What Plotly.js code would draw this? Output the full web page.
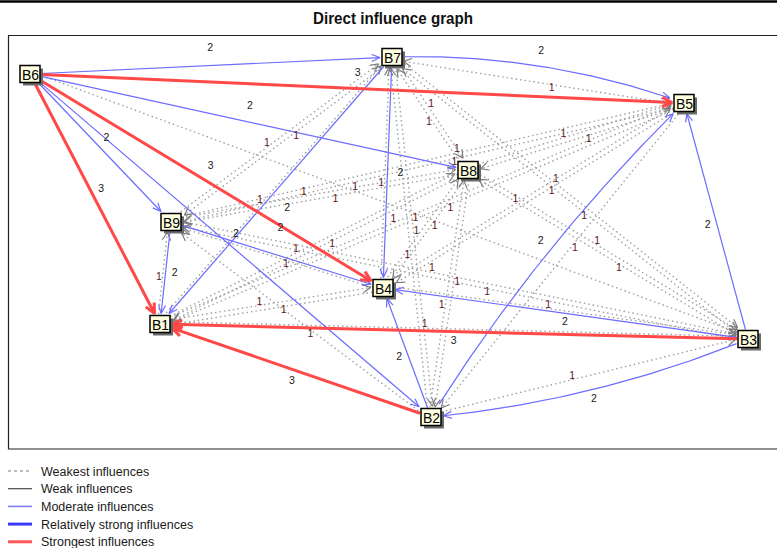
<!DOCTYPE html>
<html><head><meta charset="utf-8">
<script src="https://cdn.plot.ly/plotly-3.0.1.min.js"></script>
<style>html,body{margin:0;padding:0;background:#fff;overflow:hidden}</style>
</head><body><div id="chart" style="width:777px;height:548px"></div>
<script>
// ---- nodes (graph layout) ----
const nodeNames = ['B1','B2','B3','B4','B5','B6','B7','B8','B9'];
const nodeX = [160,431,748,383,684,30,392,468,171];
const nodeY = [324,417,339,288,103,74,57,170,222];

// ---- strongest influences (value 3) ----
const strongFrom = ['B6','B6','B6','B3','B2'];
const strongTo   = ['B5','B4','B1','B1','B1'];
const strongVal  = [3,3,3,3,3];

// ---- moderate influences (value 2) ----
const modFrom = ['B6','B6','B6','B6','B9','B7','B9','B7','B7','B3','B3','B3','B2','B2'];
const modTo   = ['B7','B8','B9','B2','B4','B1','B1','B4','B5','B5','B4','B2','B5','B4'];
const modVal  = [2,2,2,2,2,2,2,2,2,2,2,2,2,2];

// ---- weakest influences (value 1) ----
const weakFrom = ['B1','B1','B1','B1','B1','B1','B2','B2','B2','B2','B3','B3','B3',
                  'B4','B4','B4','B4','B4','B4','B5','B5','B5','B5','B5','B5','B6',
                  'B7','B7','B7','B7','B8','B8','B8','B8','B8','B8','B8','B9','B9','B9','B9'];
const weakTo   = ['B9','B7','B8','B5','B3','B4','B7','B8','B9','B3','B7','B8','B9',
                  'B7','B8','B5','B1','B9','B3','B9','B8','B4','B1','B2','B7','B3',
                  'B9','B3','B2','B8','B9','B7','B1','B4','B3','B2','B5','B7','B8','B5','B3'];
const weakVal  = weakFrom.map(() => 1);

const legendLabels = ['Weakest influences','Weak influences','Moderate influences',
                      'Relatively strong influences','Strongest influences'];

// ---- drawing style of edges (curvature / label placement) ----
const strongBend = [0,0,0,0,0];
const strongLabT = [0.5,0.49,0.48,0.5,0.5];
const strongLabO = [15,15,10,10,11];
const modBend = [0,0,0,0,0,0,0,0,28,0,0,24,24,0];
const modLabT = [0.5,0.495,0.486,0.494,0.48,0.517,0.49,0.5,0.495,0.493,0.498,0.503,0.51,0.49];
const modLabO = [17,15,11,12,26,20,9,13,29,9,9,22,25,9];
const weakLabT = weakFrom.map((f, i) => (f === 'B9' && weakTo[i] === 'B5') ? 0.56 : 0.45);

const HW = 10, HH = 8.5;
const idx = n => nodeNames.indexOf(n);
function clipFrac(dx, dy, hw, hh) {
  let t = Infinity;
  if (Math.abs(dx) > 1e-9) t = Math.min(t, hw / Math.abs(dx));
  if (Math.abs(dy) > 1e-9) t = Math.min(t, hh / Math.abs(dy));
  return t;
}
function geom(a, b, bend, shift) {
  const x0 = nodeX[a], y0 = nodeY[a], x1 = nodeX[b], y1 = nodeY[b];
  const dx = x1 - x0, dy = y1 - y0, L = Math.hypot(dx, dy);
  const nx = dy / L, ny = -dx / L;
  const sx0 = x0 + shift * nx, sy0 = y0 + shift * ny, sx1 = x1 + shift * nx, sy1 = y1 + shift * ny;
  let pts;
  if (!bend) {
    const ts = clipFrac(dx, dy, HW + 1, HH + 1), te = clipFrac(dx, dy, HW + 2, HH + 2);
    pts = [[sx0 + ts * dx, sy0 + ts * dy], [sx1 - te * dx, sy1 - te * dy]];
  } else {
    const cx = (sx0 + sx1) / 2 + bend * nx, cy = (sy0 + sy1) / 2 + bend * ny;
    const all = [];
    for (let i = 0; i <= 80; i++) {
      const t = i / 80, u = 1 - t;
      all.push([u*u*sx0 + 2*u*t*cx + t*t*sx1, u*u*sy0 + 2*u*t*cy + t*t*sy1]);
    }
    pts = all.filter(p => !(Math.abs(p[0]-x0) < HW+1 && Math.abs(p[1]-y0) < HH+1) &&
                          !(Math.abs(p[0]-x1) < HW+2 && Math.abs(p[1]-y1) < HH+2));
  }
  return {pts, x0, y0, dx, dy, nx, ny};
}
function addEdges(from, to, vals, bends, labT, labO, shift, lineArr, headArr, headLen, headAng, lab) {
  for (let i = 0; i < from.length; i++) {
    const g = geom(idx(from[i]), idx(to[i]), bends ? bends[i] : 0, shift);
    g.pts.forEach(p => { lineArr.x.push(p[0]); lineArr.y.push(p[1]); });
    lineArr.x.push(null); lineArr.y.push(null);
    const tip = g.pts[g.pts.length - 1], prev = g.pts[g.pts.length - 2];
    let ux = tip[0] - prev[0], uy = tip[1] - prev[1]; const ul = Math.hypot(ux, uy); ux /= ul; uy /= ul;
    const bx = -ux, by = -uy;
    [headAng, -headAng].forEach((ang, k) => {
      const c = Math.cos(ang), s = Math.sin(ang);
      const wx = tip[0] + headLen * (bx * c - by * s), wy = tip[1] + headLen * (bx * s + by * c);
      if (k === 0) { headArr.x.push(wx, tip[0]); headArr.y.push(wy, tip[1]); }
      else { headArr.x.push(wx, null); headArr.y.push(wy, null); }
    });
    const t = labT ? labT[i] : 0.45, o = labO ? labO[i] : 6;
    lab.x.push(g.x0 + t * g.dx + o * g.nx);
    lab.y.push(g.y0 + t * g.dy + o * g.ny);
    lab.text.push(String(vals[i]));
    lab.color.push(vals[i] === 1 ? '#5a2020' : '#1a1a1a');
  }
}

const weakL = {x: [], y: []}, weakH = {x: [], y: []};
const modL = {x: [], y: []}, strongL = {x: [], y: []};
const lab = {x: [], y: [], text: [], color: []};
addEdges(weakFrom, weakTo, weakVal, null, weakLabT, null, 2.5, weakL, weakH, 9, 0.48, lab);
addEdges(modFrom, modTo, modVal, modBend, modLabT, modLabO, 0, modL, modL, 9, 0.4, lab);
addEdges(strongFrom, strongTo, strongVal, strongBend, strongLabT, strongLabO, 0, strongL, strongL, 11, 0.45, lab);

const traces = [
  {type: 'scatter', mode: 'lines', x: weakL.x, y: weakL.y, line: {color: '#a0a0a0', width: 1.4, dash: '1.5px,3px'}, name: legendLabels[0]},
  {type: 'scatter', mode: 'lines', x: weakH.x, y: weakH.y, line: {color: '#7c7c7c', width: 1.2}, name: 'arrowheads'},
  {type: 'scatter', mode: 'lines', x: modL.x, y: modL.y, line: {color: '#6c6cff', width: 1.2}, name: legendLabels[2]},
  {type: 'scatter', mode: 'lines', x: strongL.x, y: strongL.y, line: {color: '#ff4848', width: 3}, name: legendLabels[4]},
  {type: 'scatter', mode: 'text', x: lab.x, y: lab.y, text: lab.text,
   textfont: {family: 'Liberation Sans, Arial, sans-serif', size: 10.5, color: lab.color}, name: 'values'}
];

const shapes = [
  {type: 'line', x0: 0, x1: 777, y0: 1.5, y1: 1.5, line: {color: '#000', width: 2.5}},
  {type: 'rect', x0: 8.5, x1: 780, y0: 35.5, y1: 449, line: {color: '#222', width: 1.2}, layer: 'below'}
];
const annotations = [];
nodeNames.forEach((n, i) => {
  shapes.push({type: 'rect', x0: nodeX[i]-HW+3, x1: nodeX[i]+HW+3, y0: nodeY[i]-HH+3, y1: nodeY[i]+HH+3,
               fillcolor: '#6a6a6a', line: {width: 0}, layer: 'above'});
  shapes.push({type: 'rect', x0: nodeX[i]-HW, x1: nodeX[i]+HW, y0: nodeY[i]-HH, y1: nodeY[i]+HH,
               fillcolor: '#ffffe0', line: {color: '#000', width: 1.5}, layer: 'above'});
  annotations.push({x: nodeX[i], y: nodeY[i]+0.5, xref: 'x', yref: 'y', text: n, showarrow: false,
                    font: {family: 'Liberation Sans, Arial, sans-serif', size: 14, color: '#000'}});
});
const legStyles = [
  {color: '#a8a8a8', width: 1.3, dash: 'dot'},
  {color: '#4a4a4a', width: 1.2},
  {color: '#7a7aff', width: 1.5},
  {color: '#3a3aff', width: 3},
  {color: '#ff5a5a', width: 3}
];
legendLabels.forEach((t, i) => {
  const y = 471 + i * 17.7;
  shapes.push({type: 'line', x0: 8, x1: 32, y0: y, y1: y, line: legStyles[i]});
  annotations.push({x: 39, y: y + 0.5, xref: 'x', yref: 'y', xanchor: 'left', text: t, showarrow: false,
                    font: {family: 'Liberation Sans, Arial, sans-serif', size: 12.5, color: '#1a1a1a'}});
});

const layout = {
  width: 777, height: 548, margin: {l: 0, r: 0, t: 0, b: 0},
  paper_bgcolor: '#fff', plot_bgcolor: '#fff', showlegend: false, hovermode: false,
  title: {text: 'Direct influence graph', x: 393/777, xanchor: 'center', xref: 'container',
          y: 1 - 18/548, yanchor: 'middle', yref: 'container',
          font: {family: 'Liberation Sans, Arial, sans-serif', size: 17, weight: 'bold', color: '#111'}},
  xaxis: {range: [0, 777], visible: false, fixedrange: true, domain: [0, 1]},
  yaxis: {range: [548, 0], visible: false, fixedrange: true, domain: [0, 1]},
  shapes, annotations
};
Plotly.newPlot('chart', traces, layout, {staticPlot: true, displayModeBar: false}).then(() => {
  // narrow (condensed) title as in the reference
  const t = document.querySelector('.gtitle');
  if (t) { t.setAttribute('textLength', '160'); t.setAttribute('lengthAdjust', 'spacingAndGlyphs'); }
});
</script></body></html>
